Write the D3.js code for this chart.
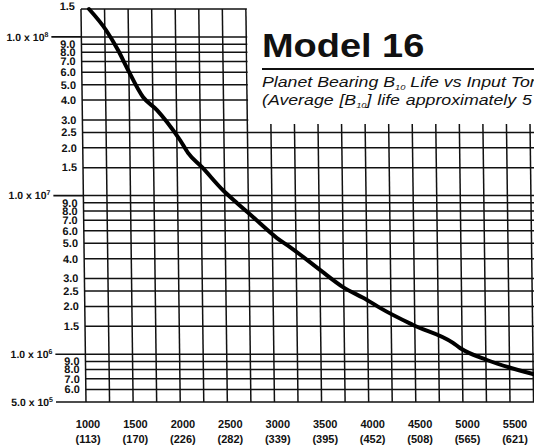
<!DOCTYPE html>
<html>
<head>
<meta charset="utf-8">
<script src="https://cdnjs.cloudflare.com/ajax/libs/d3/7.8.5/d3.min.js"></script>
<style>
  html, body { margin: 0; padding: 0; background: #fff; }
  svg { display: block; font-family: "Liberation Sans", Arial, sans-serif; }
</style>
</head>
<body>
<div id="chart"></div>
<script>
// curve (input torque vs B10 life, hours)
const torque = [1085, 1262, 1387, 1491, 1646, 1793, 1897, 2033, 2116, 2263, 2483, 2629, 2797, 3049, 3186, 3501, 3743, 3996, 4133, 4481, 4903, 4977, 5261, 5748]
const life = [1.5e8, 1.106e8, 8.27e7, 6.19e7, 4.18e7, 3.46e7, 2.91e7, 2.24e7, 1.86e7, 1.51e7, 1.08e7, 8.98e6, 7.33e6, 5.40e6, 4.74e6, 3.40e6, 2.65e6, 2.20e6, 1.96e6, 1.53e6, 1.18e6, 1.095e6, 9.2e5, 7.51e5]

const xTicks = [1000, 1500, 2000, 2500, 3000, 3500, 4000, 4500, 5000, 5500]
const xSubLabels = ["(113)", "(170)", "(226)", "(282)", "(339)", "(395)", "(452)", "(508)", "(565)", "(621)"]
const xGrid = d3.range(1000, 5751, 250)

const yMajor = [5e5, 1e6, 1e7, 1e8]
const yMajorLabels = [["5.0 x 10", "5"], ["1.0 x 10", "6"], ["1.0 x 10", "7"], ["1.0 x 10", "8"]]
const yMinor = [6e5, 7e5, 8e5, 9e5, 1.5e6, 2e6, 2.5e6, 3e6, 4e6, 5e6, 6e6, 7e6, 8e6, 9e6,
  1.5e7, 2e7, 2.5e7, 3e7, 4e7, 5e7, 6e7, 7e7, 8e7, 9e7, 1.5e8]

const W = 534, H = 445

const x = d3.scaleLinear().domain([1000, 5500]).range([86, 510])
const xl = x.copy().range([88, 515])
const y = d3.scaleLog().domain([5e5, 1.5e8]).range([402, 9])

const svg = d3.select("#chart").append("svg")
  .attr("width", W).attr("height", H)
  .attr("viewBox", [0, 0, W, H])

// the scan is a touch skewed: top of the grid sits ~5px left of the bottom
const g = svg.append("g")
  .attr("transform", `translate(0,${y(5e5)}) skewX(0.73) translate(0,${-y(5e5)})`)

const ink = "#111"

g.append("g").selectAll("line").data(yMinor.concat(yMajor)).join("line")
  .attr("x1", x(1000)).attr("x2", W + 20)
  .attr("y1", d => y(d)).attr("y2", d => y(d))
  .attr("stroke", ink).attr("stroke-width", 1.5)

g.append("g").selectAll("line").data(xGrid).join("line")
  .attr("x1", d => x(d)).attr("x2", d => x(d))
  .attr("y1", y(1.5e8)).attr("y2", y(5e5))
  .attr("stroke", ink).attr("stroke-width", 1.5)

// major ticks run out to the left
g.append("g").selectAll("line").data(yMajor).join("line")
  .attr("x1", x(1000) - 30).attr("x2", x(1000))
  .attr("y1", d => y(d)).attr("y2", d => y(d))
  .attr("stroke", ink).attr("stroke-width", 1.7)

// blank panel for the title block
g.append("rect")
  .attr("x", x(2750) + 1).attr("y", -10)
  .attr("width", W + 40 - x(2750)).attr("height", 134)
  .attr("fill", "#fff")

// curve
const line = d3.line().x(d => x(d[0])).y(d => y(d[1])).curve(d3.curveMonotoneX)
g.append("path")
  .datum(torque.map((t, i) => [t, life[i]]))
  .attr("d", line)
  .attr("fill", "none").attr("stroke", "#000")
  .attr("stroke-width", 4).attr("stroke-linejoin", "round").attr("stroke-linecap", "round")

// y labels
g.append("g").selectAll("text").data(yMinor).join("text")
  .attr("x", x(1000) - 6)
  .attr("y", d => y(d))
  .attr("dy", d => d === 1.5e8 ? "0.05em" : "0.35em")
  .attr("text-anchor", "end")
  .attr("font-size", 11).attr("font-weight", "bold").attr("fill", ink)
  .text(d => (d / Math.pow(10, Math.floor(Math.log10(d) + 1e-9))).toFixed(1))

const maj = g.append("g").selectAll("text").data(yMajor).join("text")
  .attr("x", x(1000) - 33)
  .attr("y", d => y(d))
  .attr("dy", "0.35em")
  .attr("text-anchor", "end")
  .attr("font-size", 10.5).attr("font-weight", "bold").attr("fill", ink)
maj.append("tspan").text((d, i) => yMajorLabels[i][0])
maj.append("tspan").attr("font-size", 7).attr("dy", -4).text((d, i) => yMajorLabels[i][1])

// x labels
const xt = svg.append("g").selectAll("g").data(xTicks).join("g")
  .attr("transform", d => `translate(${xl(d)},0)`)
xt.append("text").attr("y", 428).attr("text-anchor", "middle")
  .attr("font-size", 11).attr("font-weight", "bold").attr("fill", ink)
  .text(d => d)
xt.append("text").attr("y", 443).attr("text-anchor", "middle")
  .attr("font-size", 11).attr("font-weight", "bold").attr("fill", ink)
  .text((d, i) => xSubLabels[i])

// title block
svg.append("text")
  .attr("transform", "translate(262,57) scale(1.15,1)")
  .attr("font-size", 33).attr("font-weight", "bold").attr("fill", ink)
  .text("Model 16")

svg.append("line")
  .attr("x1", 262).attr("x2", W).attr("y1", 69).attr("y2", 69)
  .attr("stroke", ink).attr("stroke-width", 2)

const sub1 = svg.append("text")
  .attr("transform", "translate(262,87) scale(1.16,1)")
  .attr("font-size", 15.3).attr("font-style", "italic").attr("fill", ink)
sub1.append("tspan").text("Planet Bearing B")
sub1.append("tspan").attr("font-size", 8).attr("dy", 3).text("10")
sub1.append("tspan").attr("dy", -3).text(" Life vs Input Torque")

const sub2 = svg.append("text")
  .attr("transform", "translate(262,105) scale(1.16,1)")
  .attr("font-size", 15.3).attr("font-style", "italic").attr("fill", ink)
  .attr("word-spacing", 0.8)
sub2.append("tspan").text("(Average [B")
sub2.append("tspan").attr("font-size", 8).attr("dy", 3).text("10")
sub2.append("tspan").attr("dy", -3).text("] life approximately 5")
</script>
</body>
</html>
